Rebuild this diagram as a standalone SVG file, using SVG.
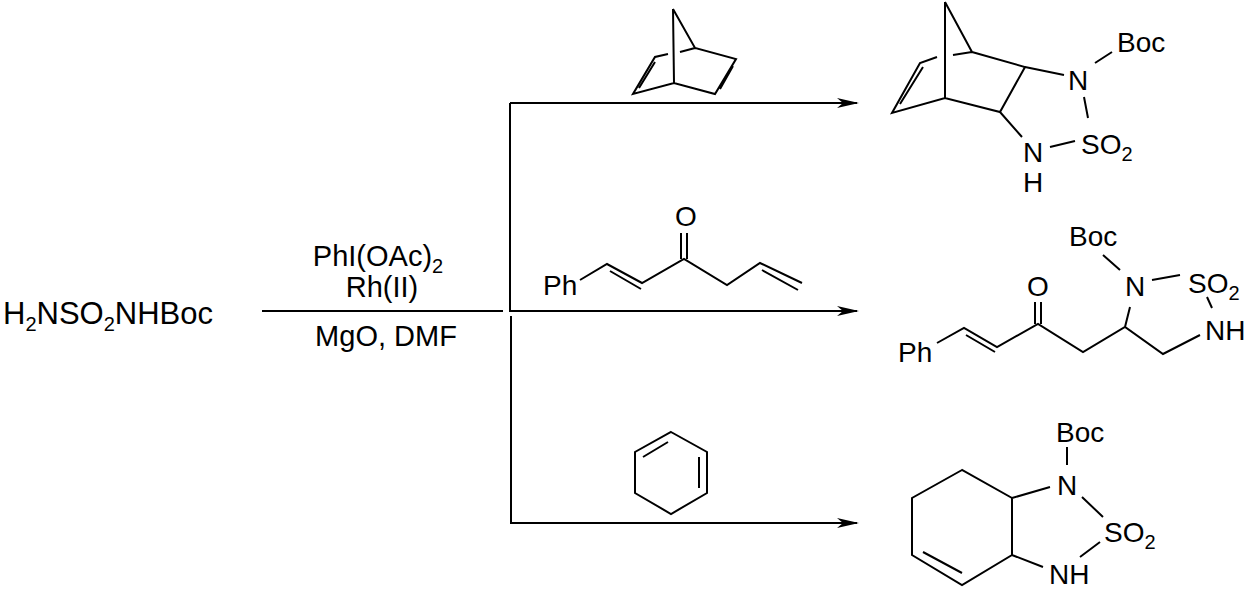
<svg xmlns="http://www.w3.org/2000/svg" width="1255" height="595" viewBox="0 0 1255 595">
<style>
text{font-family:"Liberation Sans",Arial,sans-serif;font-size:28px;fill:#000}
.m{font-size:31px}
.r{font-size:29px}
.s{font-size:20px}
.b{stroke:#000;stroke-width:2;fill:none}
.head{fill:#000;stroke:none}
</style>
<defs><marker id="ah" markerWidth="22" markerHeight="10" refX="20" refY="5" orient="auto" markerUnits="userSpaceOnUse"><path class="head" d="M0,0 L22,5 L0,10 L6,5 Z"/></marker></defs>
<rect width="1255" height="595" fill="#fff"/>
<g id="reactant"><text class="m" x="3" y="324">H<tspan class="s" dy="7">2</tspan><tspan dy="-7">NSO</tspan><tspan class="s" dy="7">2</tspan><tspan dy="-7">NHBoc</tspan></text></g>
<g id="conditions" text-anchor="middle">
<text class="r" x="378" y="266">PhI(OAc)<tspan class="s" dy="7">2</tspan></text>
<text class="r" x="382" y="297">Rh(II)</text>
<text class="r" x="386" y="346">MgO, DMF</text>
</g>
<g id="connectors" class="b">
<line x1="262" y1="311" x2="503" y2="311"/>
<polyline points="510,103 510,311 857,311" marker-end="url(#ah)"/>
<line x1="510" y1="103" x2="857" y2="103" marker-end="url(#ah)"/>
<polyline points="511,316 511,523 857,523" marker-end="url(#ah)"/>
</g>
<g id="norbornadiene" class="b">
<path d="M673,9 L674,83 M673,9 L695,48 L736,59 L715,94 L674,83 L633,94 L655,57 L668,54 M680,52 L695,48 M639,88 L655,62 M720,89 L733,66"/>
</g>
<g id="enone">
<text x="543" y="295">Ph</text>
<text x="675" y="226">O</text>
<path class="b" d="M580,280 L607,264 L642,283 L684,259 L727,285 L760,263 L802,283 M610,271 L641,289 M681,259 L681,233 M687,259 L687,233 M762,270 L798,290"/>
</g>
<g id="cyclohexadiene">
<path class="b" d="M671,432 L707,452 L707,493 L671,514 L635,493 L635,452 Z M643,457 L668,442 M699,457 L699,488"/>
</g>
<g id="product1">
<path class="b" d="M945,2 L945,98 M945,2 L972,52 L953,55 M937,57 L920,63 L892,113 L945,98 L1000,112 L1025,67 L972,52 M900,104 L923,67 M1025,67 L1064,75 M1000,112 L1022,137 M1050,147 L1075,141 M1084,97 L1088,118 M1095,63 L1112,52"/>
<text x="1068" y="90">N</text>
<text x="1117" y="52">Boc</text>
<text x="1081" y="154">SO<tspan class="s" dy="7">2</tspan></text>
<text x="1023" y="162">N</text>
<text x="1023" y="192">H</text>
</g>
<g id="product2">
<path class="b" d="M937,343 L964,328 L997,347 L1038,324 L1083,352 L1125,327 L1163,354 L1200,335 M966,335 L995,352 M1035,324 L1035,302 M1041,324 L1041,302 M1125,327 L1130,307 M1152,280 L1180,275 M1207,297 L1212,308 M1103,255 L1120,270"/>
<text x="898" y="362">Ph</text>
<text x="1027" y="296">O</text>
<text x="1069" y="246">Boc</text>
<text x="1125" y="296">N</text>
<text x="1188" y="293">SO<tspan class="s" dy="7">2</tspan></text>
<text x="1205" y="340">NH</text>
</g>
<g id="product3">
<path class="b" d="M962,470 L912,498 L912,555 L962,585 L1012,555 L1012,498 Z M923,552 L962,573 M1012,498 L1050,487 M1082,497 L1103,517 M1100,542 L1080,557 M1012,555 L1043,567 M1067,447 L1067,465"/>
<text x="1056" y="442">Boc</text>
<text x="1057" y="495">N</text>
<text x="1104" y="542">SO<tspan class="s" dy="7">2</tspan></text>
<text x="1049" y="584">NH</text>
</g>
</svg>
